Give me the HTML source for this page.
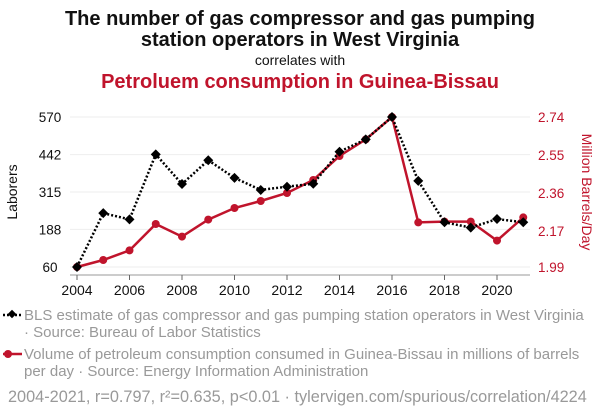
<!DOCTYPE html>
<html><head><meta charset="utf-8"><style>
body{margin:0;background:#fff;width:600px;height:414px;overflow:hidden;font-family:"Liberation Sans",sans-serif}
</style></head><body>
<svg width="600" height="414" font-family="Liberation Sans, sans-serif">
<text x="300" y="25" text-anchor="middle" font-size="20" font-weight="bold" fill="#111">The number of gas compressor and gas pumping</text>
<text x="300" y="46" text-anchor="middle" font-size="20" font-weight="bold" fill="#111">station operators in West Virginia</text>
<text x="300" y="65" text-anchor="middle" font-size="14" fill="#111">correlates with</text>
<text x="300" y="88" text-anchor="middle" font-size="20" font-weight="bold" fill="#c0142c">Petroluem consumption in Guinea-Bissau</text>
<g id="grid"></g><g id="axes"></g><g id="series"></g>
<text transform="translate(17,192) rotate(-90)" text-anchor="middle" font-size="14" fill="#111">Laborers</text>
<text transform="translate(582,192) rotate(90)" text-anchor="middle" font-size="14" fill="#c0142c">Million Barrels/Day</text>
<g>
<line x1="3" y1="315" x2="22" y2="315" stroke="#000" stroke-width="2.5" stroke-dasharray="2,2"/>
<rect x="9" y="311" width="6" height="6" transform="rotate(45 12 314)" fill="#000"/>
<text x="24" y="320" font-size="15" fill="#999">BLS estimate of gas compressor and gas pumping station operators in West Virginia</text>
<text x="24" y="337" font-size="15" fill="#999">· Source: Bureau of Labor Statistics</text></g>
<g>
<line x1="3" y1="354" x2="22" y2="354" stroke="#c0142c" stroke-width="2.5"/>
<circle cx="8" cy="354" r="4" fill="#c0142c"/>
<text x="24" y="359" font-size="15" fill="#999">Volume of petroleum consumption consumed in Guinea-Bissau in millions of barrels</text>
<text x="24" y="376" font-size="15" fill="#999">per day · Source: Energy Information Administration</text></g>
<text x="8" y="402" font-size="16.3" fill="#999">2004-2021, r=0.797, r²=0.635, p&lt;0.01 · tylervigen.com/spurious/correlation/4224</text>
</svg>
<script>
const years=[2004,2005,2006,2007,2008,2009,2010,2011,2012,2013,2014,2015,2016,2017,2018,2019,2020,2021];
const laborers=[60,243,222,443,342,423,363,322,333,343,452,494,570,353,212,194,223,212];
const petroleum=[1.99,2.025,2.073,2.205,2.142,2.227,2.285,2.32,2.36,2.425,2.545,2.628,2.74,2.213,2.217,2.217,2.122,2.238];
const leftTicks=[60,188,315,442,570];
const rightTicks=["1.99","2.17","2.36","2.55","2.74"];
const xTicks=[2004,2006,2008,2010,2012,2014,2016,2018,2020];
const NS="http://www.w3.org/2000/svg";
const X=y=>77+(y-2004)*26.25;
const YL=v=>267-(v-60)*150/510;
const YR=v=>267-(v-1.99)*150/0.75;
function mk(t,a,p){const e=document.createElementNS(NS,t);for(const k in a)e.setAttribute(k,a[k]);p.appendChild(e);return e;}
const grid=document.getElementById('grid'),axes=document.getElementById('axes'),ser=document.getElementById('series');
leftTicks.forEach((v,i)=>{
 const g=mk('line',{x1:70,x2:530,y1:YL(v),y2:YL(v),stroke:'#eee','stroke-width':1},grid);
 
 
 const t=mk('text',{x:50,y:YL(v)+5,'text-anchor':'middle','font-size':13.5,fill:'#111'},axes);t.textContent=v;
 
 
 const r=mk('text',{x:538,y:YR(+rightTicks[i])+5,'font-size':13.5,fill:'#c0142c'},axes);r.textContent=rightTicks[i];
 
 
});
const ax=mk('line',{x1:70,x2:530,y1:275,y2:275,stroke:'#999'},axes);


xTicks.forEach(y=>{
 mk('line',{x1:X(y),x2:X(y),y1:275,y2:280,stroke:'#666'},axes);
 const t=mk('text',{x:X(y),y:295,'text-anchor':'middle','font-size':14,fill:'#111'},axes);t.textContent=y;
 
 
});
const rp=mk('polyline',{points:years.map((y,i)=>X(y)+','+YR(petroleum[i])).join(' '),fill:'none',stroke:'#c0142c','stroke-width':2.5},ser);


years.forEach((y,i)=>{const c=mk('circle',{cx:X(y),cy:YR(petroleum[i]),r:4,fill:'#c0142c'},ser);
 
 });
const bp=mk('polyline',{points:years.map((y,i)=>X(y)+','+YL(laborers[i])).join(' '),fill:'none',stroke:'#000','stroke-width':2.5,'stroke-dasharray':'2,2'},ser);


years.forEach((y,i)=>{const cx=X(y),cy=YL(laborers[i]);
 const d=mk('polygon',{points:`${cx},${cy-5} ${cx+5},${cy} ${cx},${cy+5} ${cx-5},${cy}`,fill:'#000'},ser);
 
 });
</script>
</body></html>
